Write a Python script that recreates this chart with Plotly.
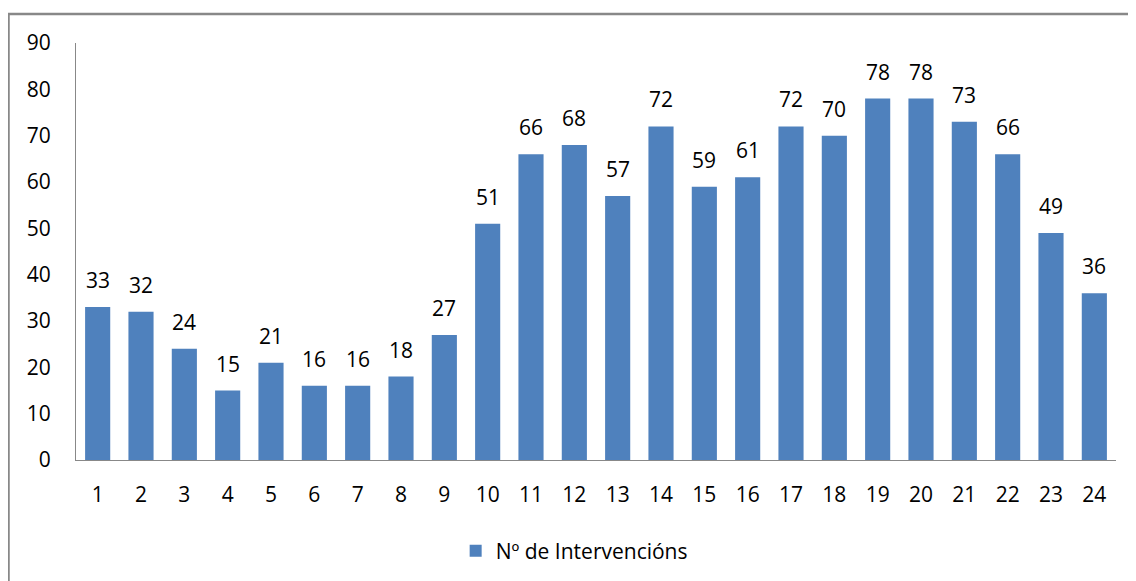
import plotly.graph_objects as go

categories = [str(i) for i in range(1, 25)]
values = [33, 32, 24, 15, 21, 16, 16, 18, 27, 51, 66, 68, 57, 72, 59, 61, 72, 70, 78, 78, 73, 66, 49, 36]
series_name = "Nº de Intervencións"
y_ticks = list(range(0, 100, 10))

# page body adds an 8px offset, compensated in the margins
W, H = 1136, 581
L, T = 68, 35
pw, ph = 1040, 417
R = W - L - pw
B = H - T - ph

FONT = "Open Sans, Liberation Sans, sans-serif"

fig = go.Figure()
fig.add_trace(go.Bar(
    x=categories, y=values, name=series_name,
    marker=dict(color="#4F81BD", line=dict(width=0)),
    showlegend=True,
))

for i, v in enumerate(values):
    fig.add_annotation(x=i, y=v, text=str(v), showarrow=False,
                       yanchor="bottom", yshift=11,
                       font=dict(family=FONT, size=21, color="#000000"))

# outer border
fig.add_shape(type="rect", xref="paper", yref="paper",
              x0=(0.5 - L) / pw, x1=(1160 - L) / pw,
              y0=-(620 - (H - B)) / ph, y1=1 + (T - 6) / ph,
              line=dict(color="#888888", width=2.5), fillcolor="rgba(0,0,0,0)", layer="below")

fig.update_layout(
    width=W, height=H,
    margin=dict(l=L, r=R, t=T, b=B, autoexpand=False),
    paper_bgcolor="white", plot_bgcolor="white",
    bargap=0.42,
    font=dict(family=FONT, size=21, color="#000000"),
    showlegend=True,
    legend=dict(orientation="h", x=0.479, xanchor="center", y=-(543 - (H - B)) / ph, yanchor="middle",
                font=dict(family=FONT, size=21, color="#000000")),
    xaxis=dict(type="category", showline=True, linecolor="#888888", linewidth=1, ticks="", showgrid=False,
               ticklabelstandoff=16, tickfont=dict(size=21), automargin=False),
    yaxis=dict(range=[0, 90], tickvals=y_ticks, showline=True, linecolor="#888888", linewidth=1,
               ticks="", showgrid=False, zeroline=False, ticklabelstandoff=20,
               tickfont=dict(size=21), automargin=False),
)

fig.write_html("out.html")
